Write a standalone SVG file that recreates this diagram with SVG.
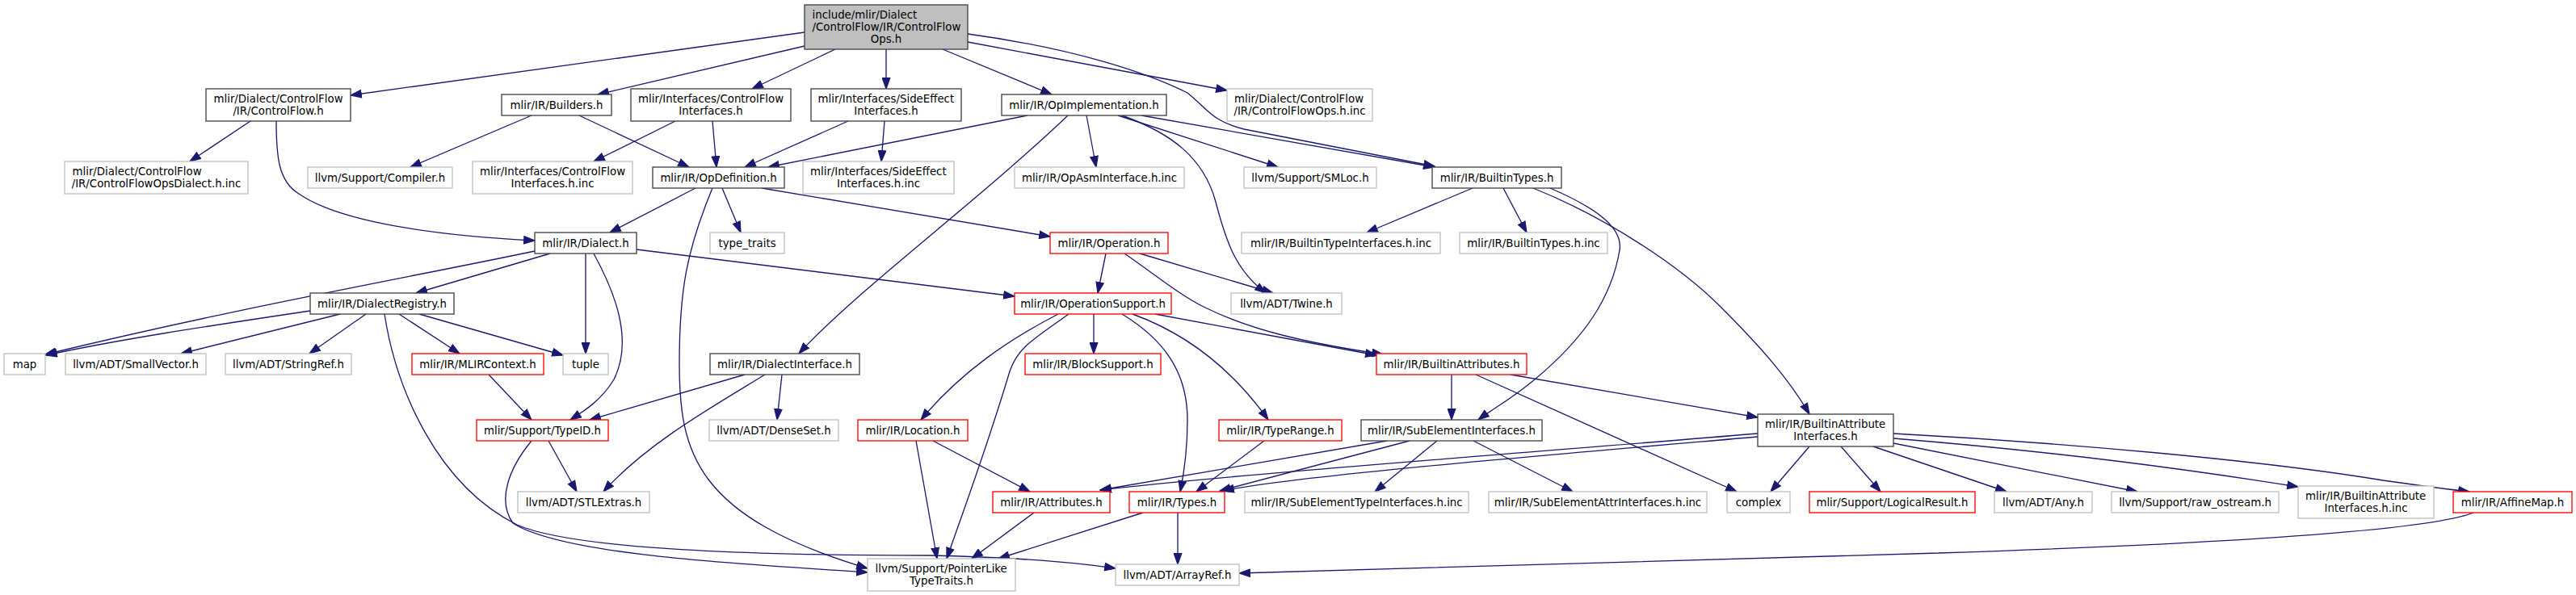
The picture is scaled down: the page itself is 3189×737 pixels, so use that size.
<svg xmlns="http://www.w3.org/2000/svg" width="3189" height="737" viewBox="0 0 3189 737">
<style>
text{font-family:"DejaVu Sans","Liberation Sans",sans-serif;font-size:13.33px;fill:#000}
.m{text-anchor:middle}
.s{text-anchor:start}
rect{fill:#fff;stroke-width:1.33}
.b{stroke:#404040}
.g{stroke:#bfbfbf}
.r{stroke:#ff0000}
.root{fill:#bfbfbf;stroke:#404040}
#edges path{fill:none;stroke:#191970;stroke-width:1.33;marker-end:url(#ah)}
</style>
<defs>
<marker id="ah" markerUnits="userSpaceOnUse" markerWidth="15" markerHeight="11" refX="14" refY="5.5" orient="auto" viewBox="0 0 15 11">
<path d="M0.7,0.8 L14,5.5 L0.7,10.2 z" fill="#191970" stroke="#191970" stroke-width="1.2"/>
</marker>
</defs>
<rect x="0" y="0" width="3189" height="737" style="fill:#fff;stroke:none"/>
<g id="edges">
<path d="M996,40 L434,118"/>
<path d="M996,57 L740,117"/>
<path d="M1034,61 L931,110"/>
<path d="M1097,61 L1097,110"/>
<path d="M1167,61 L1302,117"/>
<path d="M1198,52 L1519,112"/>
<path d="M1198,42 C1330,60 1420,90 1470,115 C1495,135 1500,150 1540,160 L1776,206"/>
<path d="M1413,143 L1776,207"/>
<path d="M310,150 L235,200"/>
<path d="M342,150 C342,195 345,225 370,240 C420,275 540,292 662,298"/>
<path d="M658,143 L508,207"/>
<path d="M717,143 L853,207"/>
<path d="M836,150 L735,200"/>
<path d="M882,150 L887,207"/>
<path d="M1050,150 L922,207"/>
<path d="M1095,150 L1091,200"/>
<path d="M1272,143 L951,207"/>
<path d="M1322,143 C1210,250 1060,360 989,438"/>
<path d="M1345,143 L1357,207"/>
<path d="M1384,143 L1582,207"/>
<path d="M1389,143 C1450,165 1490,195 1505,250 C1518,300 1530,335 1567,363"/>
<path d="M861,233 L755,288"/>
<path d="M894,233 L917,288"/>
<path d="M943,233 L1300,293"/>
<path d="M882,233 C850,310 841,360 841,450 C841,560 860,640 1074,704"/>
<path d="M681,314 L515,363"/>
<path d="M662,311 C500,345 300,380 56,439"/>
<path d="M725,314 L725,438"/>
<path d="M735,314 C760,360 785,420 760,470 C745,495 725,508 706,520"/>
<path d="M788,309 L1256,367"/>
<path d="M384,385 C250,405 150,420 57,440"/>
<path d="M421,389 L224,438"/>
<path d="M453,389 L383,438"/>
<path d="M494,389 L569,438"/>
<path d="M519,389 L697,440"/>
<path d="M476,389 C490,480 540,600 640,650 C720,685 1000,688 1150,688 C1250,690 1320,695 1381,704"/>
<path d="M658,546 C630,580 615,620 635,648 C700,690 950,700 1074,709"/>
<path d="M679,546 L714,609"/>
<path d="M605,464 L658,520"/>
<path d="M922,464 L730,520"/>
<path d="M947,464 C880,505 800,550 747,609"/>
<path d="M968,464 L962,520"/>
<path d="M1369,314 L1359,363"/>
<path d="M1411,314 L1576,363"/>
<path d="M1392,314 C1430,340 1460,365 1490,380 C1550,410 1620,425 1712,439"/>
<path d="M1430,389 L1704,440"/>
<path d="M1310,389 C1250,420 1190,460 1140,520"/>
<path d="M1323,389 C1280,420 1260,430 1250,460 C1220,560 1190,640 1172,692"/>
<path d="M1354,389 L1354,438"/>
<path d="M1389,389 C1440,420 1470,460 1470,520 C1470,560 1465,590 1461,609"/>
<path d="M1402,389 C1460,410 1520,450 1570,520"/>
<path d="M1134,546 L1160,692"/>
<path d="M1155,546 L1275,609"/>
<path d="M1280,635 L1203,692"/>
<path d="M1415,635 L1236,692"/>
<path d="M1458,635 L1458,699"/>
<path d="M1565,546 L1481,609"/>
<path d="M1717,546 L1362,607"/>
<path d="M1745,546 L1510,608"/>
<path d="M2176,537 C1900,560 1500,590 1362,607"/>
<path d="M2176,541 C1900,565 1600,590 1514,608"/>
<path d="M1779,546 L1702,609"/>
<path d="M1824,546 L1947,609"/>
<path d="M1797,464 L1797,520"/>
<path d="M1827,464 L2150,609"/>
<path d="M1870,464 L2176,517"/>
<path d="M1823,233 L1692,288"/>
<path d="M1861,233 L1890,288"/>
<path d="M1919,233 C1970,255 2010,280 2005,310 C1995,370 1960,420 1900,470 C1870,495 1850,505 1830,520"/>
<path d="M1898,233 C1990,270 2080,330 2130,380 C2180,430 2215,470 2240,513"/>
<path d="M2240,553 L2192,609"/>
<path d="M2279,553 L2328,609"/>
<path d="M2319,553 L2484,609"/>
<path d="M2344,549 L2646,609"/>
<path d="M2344,543 C2550,560 2700,580 2845,603"/>
<path d="M2344,537 C2550,548 2800,570 2950,595 C3000,602 3030,606 3057,609"/>
<path d="M3062,635 C3000,660 2700,675 2400,685 C2100,695 1800,705 1534,710"/>
</g>
<g id="n_root"><rect class="root" x="996" y="6" width="202" height="55"/><text class="s" x="1005.5" y="23">include/mlir/Dialect</text><text class="s" x="1005.5" y="38">/ControlFlow/IR/ControlFlow</text><text class="m" x="1097" y="53">Ops.h</text></g>
<g id="n_cf"><rect class="b" x="255" y="110" width="179" height="40"/><text class="s" x="264.5" y="127">mlir/Dialect/ControlFlow</text><text class="m" x="344.5" y="142">/IR/ControlFlow.h</text></g>
<g id="n_builders"><rect class="b" x="621" y="117" width="136" height="26"/><text class="m" x="689" y="134.5">mlir/IR/Builders.h</text></g>
<g id="n_cfi"><rect class="b" x="781" y="110" width="198" height="40"/><text class="s" x="790" y="127">mlir/Interfaces/ControlFlow</text><text class="m" x="880" y="142">Interfaces.h</text></g>
<g id="n_sei"><rect class="b" x="1004" y="110" width="186" height="40"/><text class="s" x="1012.5" y="127">mlir/Interfaces/SideEffect</text><text class="m" x="1097" y="142">Interfaces.h</text></g>
<g id="n_opimpl"><rect class="b" x="1240" y="117" width="204" height="26"/><text class="m" x="1342" y="134.5">mlir/IR/OpImplementation.h</text></g>
<g id="n_cfopsinc"><rect class="g" x="1519" y="110" width="180" height="40"/><text class="s" x="1528" y="127">mlir/Dialect/ControlFlow</text><text class="m" x="1609" y="142">/IR/ControlFlowOps.h.inc</text></g>
<g id="n_cfdialinc"><rect class="g" x="80" y="200" width="227" height="40"/><text class="s" x="89.5" y="217">mlir/Dialect/ControlFlow</text><text class="m" x="193.5" y="232">/IR/ControlFlowOpsDialect.h.inc</text></g>
<g id="n_compiler"><rect class="g" x="381" y="207" width="179" height="26"/><text class="m" x="470.5" y="224.5">llvm/Support/Compiler.h</text></g>
<g id="n_cfiinc"><rect class="g" x="585" y="200" width="198" height="40"/><text class="s" x="594" y="217">mlir/Interfaces/ControlFlow</text><text class="m" x="684" y="232">Interfaces.h.inc</text></g>
<g id="n_opdef"><rect class="b" x="808" y="207" width="163" height="26"/><text class="m" x="889.5" y="224.5">mlir/IR/OpDefinition.h</text></g>
<g id="n_seiinc"><rect class="g" x="994" y="200" width="187" height="40"/><text class="s" x="1003" y="217">mlir/Interfaces/SideEffect</text><text class="m" x="1087.5" y="232">Interfaces.h.inc</text></g>
<g id="n_opasm"><rect class="g" x="1256" y="207" width="210" height="26"/><text class="m" x="1361" y="224.5">mlir/IR/OpAsmInterface.h.inc</text></g>
<g id="n_smloc"><rect class="g" x="1540" y="207" width="164" height="26"/><text class="m" x="1622" y="224.5">llvm/Support/SMLoc.h</text></g>
<g id="n_btypes"><rect class="b" x="1773" y="207" width="160" height="26"/><text class="m" x="1853" y="224.5">mlir/IR/BuiltinTypes.h</text></g>
<g id="n_dialect"><rect class="b" x="662" y="288" width="126" height="26"/><text class="m" x="725" y="305.5">mlir/IR/Dialect.h</text></g>
<g id="n_typetraits"><rect class="g" x="879" y="288" width="92" height="26"/><text class="m" x="925" y="305.5">type_traits</text></g>
<g id="n_operation"><rect class="r" x="1300" y="288" width="146" height="26"/><text class="m" x="1373" y="305.5">mlir/IR/Operation.h</text></g>
<g id="n_btiinc"><rect class="g" x="1537" y="288" width="246" height="26"/><text class="m" x="1660" y="305.5">mlir/IR/BuiltinTypeInterfaces.h.inc</text></g>
<g id="n_btinc"><rect class="g" x="1807" y="288" width="183" height="26"/><text class="m" x="1898.5" y="305.5">mlir/IR/BuiltinTypes.h.inc</text></g>
<g id="n_dreg"><rect class="b" x="384" y="363" width="178" height="26"/><text class="m" x="473" y="380.5">mlir/IR/DialectRegistry.h</text></g>
<g id="n_opsupport"><rect class="r" x="1256" y="363" width="194" height="26"/><text class="m" x="1353" y="380.5">mlir/IR/OperationSupport.h</text></g>
<g id="n_twine"><rect class="g" x="1524" y="363" width="137" height="26"/><text class="m" x="1592.5" y="380.5">llvm/ADT/Twine.h</text></g>
<g id="n_map"><rect class="g" x="5" y="438" width="51" height="26"/><text class="m" x="30.5" y="455.5">map</text></g>
<g id="n_smallvec"><rect class="g" x="81" y="438" width="174" height="26"/><text class="m" x="168" y="455.5">llvm/ADT/SmallVector.h</text></g>
<g id="n_stringref"><rect class="g" x="279" y="438" width="156" height="26"/><text class="m" x="357" y="455.5">llvm/ADT/StringRef.h</text></g>
<g id="n_mlirctx"><rect class="r" x="510" y="438" width="163" height="26"/><text class="m" x="591.5" y="455.5">mlir/IR/MLIRContext.h</text></g>
<g id="n_tuple"><rect class="g" x="697" y="438" width="56" height="26"/><text class="m" x="725" y="455.5">tuple</text></g>
<g id="n_dialiface"><rect class="b" x="879" y="438" width="185" height="26"/><text class="m" x="971.5" y="455.5">mlir/IR/DialectInterface.h</text></g>
<g id="n_blocksupport"><rect class="r" x="1269" y="438" width="168" height="26"/><text class="m" x="1353" y="455.5">mlir/IR/BlockSupport.h</text></g>
<g id="n_battrs"><rect class="r" x="1704" y="438" width="186" height="26"/><text class="m" x="1797" y="455.5">mlir/IR/BuiltinAttributes.h</text></g>
<g id="n_typeid"><rect class="r" x="590" y="520" width="163" height="26"/><text class="m" x="671.5" y="537.5">mlir/Support/TypeID.h</text></g>
<g id="n_denseset"><rect class="g" x="878" y="520" width="160" height="26"/><text class="m" x="958" y="537.5">llvm/ADT/DenseSet.h</text></g>
<g id="n_location"><rect class="r" x="1062" y="520" width="136" height="26"/><text class="m" x="1130" y="537.5">mlir/IR/Location.h</text></g>
<g id="n_typerange"><rect class="r" x="1509" y="520" width="152" height="26"/><text class="m" x="1585" y="537.5">mlir/IR/TypeRange.h</text></g>
<g id="n_subelem"><rect class="b" x="1685" y="520" width="224" height="26"/><text class="m" x="1797" y="537.5">mlir/IR/SubElementInterfaces.h</text></g>
<g id="n_baiface"><rect class="b" x="2176" y="513" width="168" height="40"/><text class="s" x="2185" y="530">mlir/IR/BuiltinAttribute</text><text class="m" x="2260" y="545">Interfaces.h</text></g>
<g id="n_stlextras"><rect class="g" x="641" y="609" width="163" height="26"/><text class="m" x="722.5" y="626.5">llvm/ADT/STLExtras.h</text></g>
<g id="n_attributes"><rect class="r" x="1229" y="609" width="145" height="26"/><text class="m" x="1301.5" y="626.5">mlir/IR/Attributes.h</text></g>
<g id="n_types"><rect class="r" x="1398" y="609" width="118" height="26"/><text class="m" x="1457" y="626.5">mlir/IR/Types.h</text></g>
<g id="n_setinc"><rect class="g" x="1541" y="609" width="277" height="26"/><text class="m" x="1679.5" y="626.5">mlir/IR/SubElementTypeInterfaces.h.inc</text></g>
<g id="n_seainc"><rect class="g" x="1843" y="609" width="270" height="26"/><text class="m" x="1978" y="626.5">mlir/IR/SubElementAttrInterfaces.h.inc</text></g>
<g id="n_complex"><rect class="g" x="2138" y="609" width="78" height="26"/><text class="m" x="2177" y="626.5">complex</text></g>
<g id="n_logical"><rect class="r" x="2240" y="609" width="205" height="26"/><text class="m" x="2342.5" y="626.5">mlir/Support/LogicalResult.h</text></g>
<g id="n_any"><rect class="g" x="2469" y="609" width="121" height="26"/><text class="m" x="2529.5" y="626.5">llvm/ADT/Any.h</text></g>
<g id="n_rawos"><rect class="g" x="2614" y="609" width="207" height="26"/><text class="m" x="2717.5" y="626.5">llvm/Support/raw_ostream.h</text></g>
<g id="n_baiinc"><rect class="g" x="2845" y="602" width="168" height="40"/><text class="s" x="2854" y="619">mlir/IR/BuiltinAttribute</text><text class="m" x="2929" y="634">Interfaces.h.inc</text></g>
<g id="n_affine"><rect class="r" x="3037" y="609" width="147" height="26"/><text class="m" x="3110.5" y="626.5">mlir/IR/AffineMap.h</text></g>
<g id="n_ptrlike"><rect class="g" x="1074" y="692" width="183" height="40"/><text class="s" x="1083.5" y="709">llvm/Support/PointerLike</text><text class="m" x="1165.5" y="724">TypeTraits.h</text></g>
<g id="n_arrayref"><rect class="g" x="1381" y="699" width="153" height="26"/><text class="m" x="1457.5" y="716.5">llvm/ADT/ArrayRef.h</text></g>
</svg>
